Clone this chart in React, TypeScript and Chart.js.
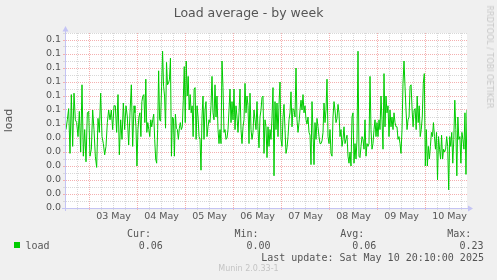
import React, { useEffect, useRef } from 'react';
import { Chart, registerables } from 'chart.js';

Chart.register(...registerables);

// ---------- data ----------
const TITLE = 'Load average - by week';
const Y_TITLE = 'load';
const SERIES_NAME = 'load';
const dayLabels = ['03 May', '04 May', '05 May', '06 May', '07 May', '08 May', '09 May', '10 May'];
// label for each 0.01 step of the y axis (0.00 .. 0.12), as printed by rrdtool
const yTickLabels = ['0.0', '0.0', '0.0', '0.0', '0.0', '0.0', '0.1', '0.1', '0.1', '0.1', '0.1', '0.1', '0.1'];
const statNames = ['Cur:', 'Min:', 'Avg:', 'Max:'];
const statValues = ['0.06', '0.00', '0.06', '0.23'];
const LAST_UPDATE = 'Last update: Sat May 10 20:10:00 2025';
const FOOTER = 'Munin 2.0.33-1';
const SIDE_TEXT = 'RRDTOOL / TOBI OETIKER';

// time windows (hours since 03 May 00:00) covered by each block of samples
const windowStart = [-11.75, 22.25, 56.25, 90.25, 124.25, 158.25];
const windowEnd = [22.25, 56.25, 90.25, 124.25, 158.25, 188.75];

const load1 = [0.056,0.063,0.071,0.039,0.081,0.044,0.082,0.063,0.061,0.051,0.069,0.040,0.088,0.037,0.056,0.033,0.068,0.069,0.037,0.042,0.070,0.056,0.037,0.029,0.064,0.054,0.082,0.051,0.046,0.038,0.044,0.061,0.070,0.063,0.070,0.056,0.073,0.073,0.054,0.081,0.038,0.063,0.049,0.075,0.056,0.073,0.065,0.045,0.068,0.088,0.044];
const load2 = [0.073,0.068,0.058,0.030,0.056,0.065,0.068,0.051,0.076,0.080,0.081,0.061,0.092,0.054,0.061,0.056,0.051,0.063,0.058,0.063,0.067,0.049,0.035,0.032,0.056,0.098,0.063,0.062,0.087,0.112,0.087,0.080,0.057,0.104,0.088,0.089,0.092,0.107,0.037,0.065,0.064,0.037,0.067,0.057,0.056,0.049,0.057,0.061,0.056,0.058,0.077,0.101,0.061,0.105,0.080,0.094,0.070,0.081,0.068,0.073,0.051,0.085,0.086,0.049,0.073,0.065,0.051,0.049,0.027];
const load3 = [0.065,0.080,0.049,0.070,0.076,0.051,0.058,0.063,0.061,0.073,0.094,0.068,0.063,0.088,0.065,0.080,0.056,0.046,0.056,0.046,0.105,0.086,0.054,0.056,0.049,0.050,0.056,0.070,0.085,0.061,0.076,0.063,0.085,0.056,0.073,0.065,0.054,0.068,0.085,0.056,0.046,0.058,0.063,0.089,0.068,0.080,0.073,0.046,0.082,0.056,0.049,0.054,0.070,0.063,0.056,0.076,0.056,0.043,0.065,0.070,0.079,0.080,0.039,0.063,0.058,0.036,0.058,0.044];
const load4 = [0.056,0.049,0.065,0.086,0.023,0.076,0.056,0.075,0.051,0.074,0.090,0.049,0.044,0.065,0.074,0.056,0.039,0.043,0.051,0.063,0.068,0.083,0.058,0.071,0.070,0.065,0.100,0.063,0.054,0.061,0.070,0.077,0.070,0.081,0.068,0.073,0.063,0.060,0.065,0.054,0.052,0.031,0.076,0.055,0.031,0.061,0.049,0.064,0.058,0.051,0.046,0.046,0.048,0.054,0.075,0.061,0.070,0.092,0.051,0.046,0.056,0.039,0.037,0.065,0.076,0.070,0.061,0.064];
const load5 = [0.074,0.068,0.051,0.056,0.044,0.049,0.058,0.046,0.049,0.052,0.037,0.032,0.040,0.030,0.065,0.068,0.032,0.046,0.035,0.049,0.112,0.037,0.036,0.044,0.051,0.049,0.042,0.063,0.037,0.046,0.044,0.046,0.094,0.056,0.042,0.046,0.056,0.063,0.051,0.061,0.051,0.063,0.056,0.080,0.063,0.042,0.096,0.058,0.080,0.068,0.073,0.051,0.070,0.058,0.065,0.056,0.068,0.061,0.058,0.058,0.049,0.051,0.046,0.039,0.056,0.089,0.105,0.087];
const load6 = [0.070,0.056,0.063,0.065,0.087,0.088,0.070,0.058,0.070,0.071,0.056,0.080,0.061,0.073,0.051,0.056,0.065,0.089,0.096,0.030,0.056,0.030,0.044,0.035,0.044,0.054,0.051,0.061,0.051,0.042,0.054,0.020,0.051,0.042,0.035,0.052,0.035,0.042,0.040,0.042,0.051,0.044,0.013,0.051,0.044,0.054,0.032,0.049,0.077,0.056,0.023,0.065,0.049,0.051,0.032,0.054,0.049,0.042,0.068,0.024,0.070];

const loadBlocks = [load1, load2, load3, load4, load5, load6];

// ---------- styles ----------
const LINE_COLOR = '#00cc00';
const TEXT_COLOR = '#555555';
const MAJOR_GRID = '#f4b0b0';
const MINOR_GRID = '#d8d8d8';
const AXIS_COLOR = '#c4c4f4';
const BG = '#f0f0f0';

function buildPoints() {
  const pts: { x: number; y: number }[] = [];
  loadBlocks.forEach((vals, k) => {
    const last = k === loadBlocks.length - 1;
    const span = windowEnd[k] - windowStart[k];
    const step = span / (last ? vals.length - 1 : vals.length);
    vals.forEach((v, j) => pts.push({ x: windowStart[k] + j * step, y: v }));
  });
  return pts;
}

const plotBackground = {
  id: 'plotBackground',
  beforeDraw(chart: any) {
    const { ctx, chartArea: a } = chart;
    ctx.save();
    ctx.fillStyle = '#ffffff';
    ctx.fillRect(a.left, a.top, a.right - a.left, a.bottom - a.top);
    ctx.restore();
  },
};

const axisArrows = {
  id: 'axisArrows',
  afterDatasetsDraw(chart: any) {
    const { ctx, chartArea: a } = chart;
    ctx.save();
    ctx.strokeStyle = AXIS_COLOR;
    ctx.fillStyle = AXIS_COLOR;
    ctx.lineWidth = 1;
    const x0 = a.left - 0.5;
    const y0 = a.bottom + 0.5;
    ctx.beginPath();
    ctx.moveTo(x0, a.bottom + 3);
    ctx.lineTo(x0, a.top - 3);
    ctx.stroke();
    ctx.beginPath();
    ctx.moveTo(a.left - 4, y0);
    ctx.lineTo(a.right + 2, y0);
    ctx.stroke();
    ctx.beginPath();
    ctx.moveTo(x0 - 3, a.top - 1.5);
    ctx.lineTo(x0 + 3, a.top - 1.5);
    ctx.lineTo(x0, a.top - 7);
    ctx.closePath();
    ctx.fill();
    ctx.beginPath();
    ctx.moveTo(a.right + 1, y0 - 3);
    ctx.lineTo(a.right + 1, y0 + 3);
    ctx.lineTo(a.right + 6, y0);
    ctx.closePath();
    ctx.fill();
    ctx.restore();
  },
};

const isMajorY = (v: number) => Math.round(v * 1000) % 10 === 0;
const isMajorX = (v: number) => Math.round(v) % 24 === 0;

export default function App() {
  const canvasRef = useRef<HTMLCanvasElement | null>(null);

  useEffect(() => {
    document.body.style.margin = '0';
    const canvas = canvasRef.current;
    if (!canvas) return;
    Chart.defaults.font.family = "'DejaVu Sans', sans-serif";
    Chart.defaults.color = TEXT_COLOR;

    const chart = new Chart(canvas, {
      type: 'line',
      data: {
        datasets: [
          {
            label: SERIES_NAME,
            data: buildPoints(),
            borderColor: LINE_COLOR,
            backgroundColor: LINE_COLOR,
            borderWidth: 1,
            pointRadius: 0,
            tension: 0,
            fill: false,
          },
        ],
      },
      options: {
        animation: false,
        responsive: false,
        devicePixelRatio: 1,
        events: [],
        layout: { padding: 0 },
        plugins: {
          legend: { display: false },
          tooltip: { enabled: false },
          title: {
            display: true,
            text: TITLE,
            color: TEXT_COLOR,
            font: { family: "'DejaVu Sans', sans-serif", size: 12.5, weight: 'normal' },
            padding: { top: 6, bottom: 12 },
          },
        },
        scales: {
          x: {
            type: 'linear',
            min: -11.75,
            max: 188.75,
            afterFit: (s: any) => {
              s.height = 72;
            },
            ticks: {
              stepSize: 6,
              includeBounds: false,
              autoSkip: false,
              maxRotation: 0,
              minRotation: 0,
              padding: 0.8,
              color: TEXT_COLOR,
              font: { size: 9.5 },
              callback: (value: any) => {
                const v = Math.round(Number(value));
                if ((v - 12) % 24 === 0) {
                  const i = (v - 12) / 24;
                  return dayLabels[i] ?? '';
                }
                return '';
              },
            },
            grid: {
              color: (ctx: any) => (isMajorX(ctx.tick.value) ? MAJOR_GRID : MINOR_GRID),
              tickColor: (ctx: any) => (isMajorX(ctx.tick.value) ? MAJOR_GRID : MINOR_GRID),
              lineWidth: 1,
              drawTicks: true,
              tickLength: 2,
            },
            border: { display: false, dash: [1, 1] },
          },
          y: {
            type: 'linear',
            min: 0,
            max: 0.125,
            afterFit: (s: any) => {
              s.width = 66;
            },
            title: {
              display: true,
              text: Y_TITLE,
              color: TEXT_COLOR,
              font: { size: 11 },
              padding: { top: 3, bottom: 0 },
            },
            ticks: {
              stepSize: 0.005,
              autoSkip: false,
              padding: 2,
              color: TEXT_COLOR,
              font: { size: 9.5 },
              callback: (value: any) => {
                const m = Math.round(Number(value) * 1000);
                if (m % 10 !== 0) return '';
                return yTickLabels[m / 10] ?? '';
              },
            },
            grid: {
              color: (ctx: any) => (isMajorY(ctx.tick.value) ? MAJOR_GRID : MINOR_GRID),
              tickColor: (ctx: any) => (isMajorY(ctx.tick.value) ? MAJOR_GRID : MINOR_GRID),
              lineWidth: 1,
              drawTicks: true,
              tickLength: 3,
            },
            border: { display: false, dash: [1, 1] },
          },
          yRight: {
            type: 'linear',
            position: 'right',
            display: true,
            afterFit: (s: any) => {
              s.width = 30;
            },
            ticks: { display: false },
            grid: { display: false, drawTicks: false },
            border: { display: false },
          },
        },
      },
      plugins: [plotBackground, axisArrows],
    } as any);

    return () => chart.destroy();
  }, []);

  const mono: React.CSSProperties = {
    position: 'absolute',
    font: "10px 'DejaVu Sans Mono', monospace",
    lineHeight: '10px',
    color: TEXT_COLOR,
    whiteSpace: 'pre',
  };
  const statHeaderLeft = [127, 234.5, 340.2, 447.2];
  const statValueLeft = [138.7, 246.5, 352.2, 459.5];

  return (
    <div style={{ position: 'relative', width: 497, height: 280, background: BG, overflow: 'hidden' }}>
      <canvas ref={canvasRef} width={497} height={280} style={{ display: 'block' }} />
      <div style={{ position: 'absolute', left: 14, top: 242, width: 6, height: 6, background: LINE_COLOR }} />
      <div style={{ ...mono, left: 25.5, top: 240.5 }}>{SERIES_NAME}</div>
      {statNames.map((n, i) => (
        <div key={n} style={{ ...mono, left: statHeaderLeft[i], top: 228.8 }}>{n}</div>
      ))}
      {statValues.map((v, i) => (
        <div key={i} style={{ ...mono, left: statValueLeft[i], top: 240.5 }}>{v}</div>
      ))}
      <div style={{ ...mono, left: 261.2, top: 252.5 }}>{LAST_UPDATE}</div>
      <div
        style={{
          position: 'absolute',
          left: 0,
          width: 497,
          top: 264.9,
          textAlign: 'center',
          font: "8px 'DejaVu Sans', sans-serif",
          lineHeight: '8px',
          color: '#c4c4c4',
          whiteSpace: 'pre',
        }}
      >
        {FOOTER}
      </div>
      <div
        style={{
          position: 'absolute',
          left: 488.5,
          top: 56.5,
          transform: 'translate(-50%, -50%) rotate(90deg)',
          font: "8px 'DejaVu Sans', sans-serif",
          lineHeight: '8px',
          color: '#c8c8c8',
          whiteSpace: 'nowrap',
        }}
      >
        {SIDE_TEXT}
      </div>
    </div>
  );
}
